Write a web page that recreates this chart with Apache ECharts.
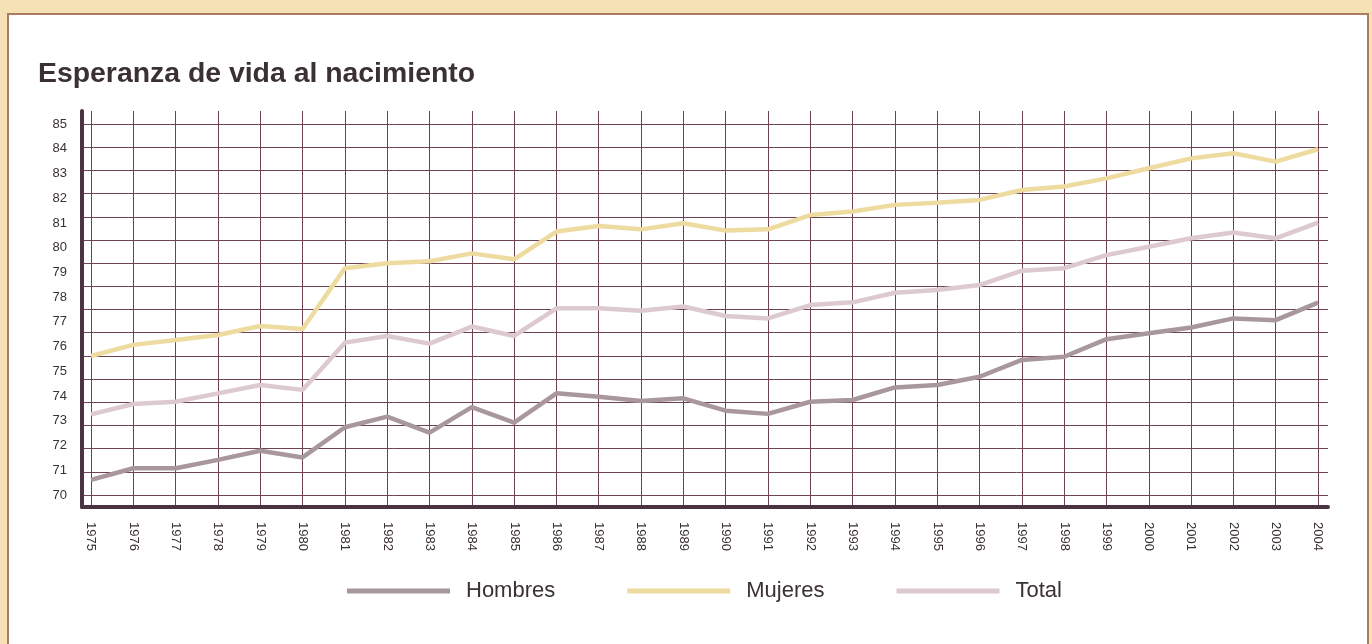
<!DOCTYPE html>
<html>
<head>
<meta charset="utf-8">
<title>Esperanza de vida al nacimiento</title>
<script src="https://cdn.jsdelivr.net/npm/echarts@6/dist/echarts.min.js"></script>
<style>
  html, body { margin: 0; padding: 0; background: #f6e1b4; overflow: hidden; }
  #panel {
    position: absolute; left: 7px; top: 13px; width: 1362px; height: 640px;
    background: #fff; border: 2px solid #ad7a62; box-sizing: border-box;
  }
  #chart { position: absolute; left: 0; top: 0; width: 1372px; height: 644px; }
</style>
</head>
<body>
<div id="panel"></div>
<div id="chart"></div>
<script>
const years = ['1975', '1976', '1977', '1978', '1979', '1980', '1981', '1982', '1983', '1984',
  '1985', '1986', '1987', '1988', '1989', '1990', '1991', '1992', '1993', '1994',
  '1995', '1996', '1997', '1998', '1999', '2000', '2001', '2002', '2003', '2004']

const hombres = [70.61, 71.08, 71.08, 71.42, 71.79, 71.52, 72.74, 73.17, 72.52, 73.55,
  72.93, 74.11, 73.97, 73.8, 73.91, 73.41, 73.28, 73.77, 73.84, 74.35,
  74.45, 74.78, 75.46, 75.59, 76.3, 76.54, 76.77, 77.14, 77.07, 77.78]

const mujeres = [75.62, 76.07, 76.27, 76.47, 76.83, 76.71, 79.17, 79.37, 79.45, 79.77,
  79.53, 80.65, 80.88, 80.74, 80.99, 80.69, 80.74, 81.32, 81.46, 81.73,
  81.82, 81.93, 82.33, 82.47, 82.8, 83.21, 83.61, 83.82, 83.48, 83.98]

const total = [73.26, 73.68, 73.77, 74.11, 74.45, 74.25, 76.16, 76.43, 76.12, 76.81,
  76.43, 77.55, 77.55, 77.45, 77.62, 77.24, 77.14, 77.68, 77.79, 78.18,
  78.29, 78.49, 79.07, 79.17, 79.7, 80.04, 80.38, 80.61, 80.38, 81.01]

// y tick labels 70..85 (the printed grid has 16 bands, one more than the labels)
const yMin = 70
const yMax = 85
const gridBands = 16

const textColor = '#3a3035'
const gridColor = '#6e4252'
const frameColor = '#4b3441'
const font = '"Liberation Sans", Arial, sans-serif'

const chart = echarts.init(document.getElementById('chart'))

const hidden = {
  axisLine: { show: false },
  axisTick: { show: false },
  axisLabel: { show: false },
  splitLine: { show: false }
}

chart.setOption({
  backgroundColor: 'transparent',
  animation: false,
  title: {
    text: 'Esperanza de vida al nacimiento',
    left: 33,
    top: 55,
    textStyle: {
      color: textColor,
      fontFamily: font,
      fontWeight: 'bold',
      fontSize: 28.4
    }
  },
  legend: {
    left: 342,
    top: 575,
    itemWidth: 103,
    itemHeight: 5,
    itemGap: 72,
    icon: 'rect',
    data: ['Hombres', 'Mujeres', 'Total'],
    textStyle: {
      color: textColor,
      fontFamily: font,
      fontSize: 22,
      padding: [0, 0, 0, 11]
    }
  },
  grid: [
    // series + y labels
    { left: 91, right: 54, top: 124, bottom: 149 },
    // vertical lines + year labels
    { left: 91, right: 54, top: 111, bottom: 137 },
    // horizontal lines
    { left: 82, right: 44, top: 124, bottom: 149 },
    // thick frame
    { left: 82, right: 44, top: 111, bottom: 137 }
  ],
  xAxis: [
    Object.assign({ gridIndex: 0, type: 'category', boundaryGap: false, data: years }, hidden),
    {
      gridIndex: 1,
      type: 'category',
      boundaryGap: false,
      data: years,
      axisLine: { show: false },
      axisTick: { show: false },
      axisLabel: {
        rotate: -90,
        margin: 15,
        interval: 0,
        color: textColor,
        fontFamily: font,
        fontSize: 13
      },
      splitLine: {
        show: true,
        showMinLine: true,
        showMaxLine: true,
        interval: 0,
        lineStyle: { color: gridColor, width: 1 }
      }
    },
    Object.assign({ gridIndex: 2, type: 'value', min: 0, max: 1 }, hidden),
    {
      gridIndex: 3,
      type: 'value',
      min: 0,
      max: 1,
      axisLine: { show: true, onZero: false, lineStyle: { color: frameColor, width: 4 } },
      axisTick: { show: false },
      axisLabel: { show: false },
      splitLine: { show: false }
    }
  ],
  yAxis: [
    {
      gridIndex: 0,
      type: 'value',
      min: yMin,
      max: yMax,
      interval: 1,
      axisLine: { show: false },
      axisTick: { show: false },
      splitLine: { show: false },
      axisLabel: {
        margin: 24,
        color: textColor,
        fontFamily: font,
        fontSize: 13
      }
    },
    Object.assign({ gridIndex: 1, type: 'value', min: 0, max: 1 }, hidden),
    {
      gridIndex: 2,
      type: 'value',
      min: 0,
      max: gridBands,
      interval: 1,
      axisLine: { show: false },
      axisTick: { show: false },
      axisLabel: { show: false },
      splitLine: { show: true, lineStyle: { color: gridColor, width: 1 } }
    },
    {
      gridIndex: 3,
      type: 'value',
      min: 0,
      max: 1,
      axisLine: { show: true, onZero: false, lineStyle: { color: frameColor, width: 4 } },
      axisTick: { show: false },
      axisLabel: { show: false },
      splitLine: { show: false }
    }
  ],
  series: [
    {
      name: 'Hombres',
      type: 'line',
      data: hombres,
      showSymbol: false,
      itemStyle: { color: '#a9979f' },
      lineStyle: { color: '#a9979f', width: 4.5 }
    },
    {
      name: 'Mujeres',
      type: 'line',
      data: mujeres,
      showSymbol: false,
      itemStyle: { color: '#eedb9f' },
      lineStyle: { color: '#eedb9f', width: 4.5 }
    },
    {
      name: 'Total',
      type: 'line',
      data: total,
      showSymbol: false,
      itemStyle: { color: '#ddc9d1' },
      lineStyle: { color: '#ddc9d1', width: 4.5 }
    }
  ]
})
</script>
</body>
</html>
